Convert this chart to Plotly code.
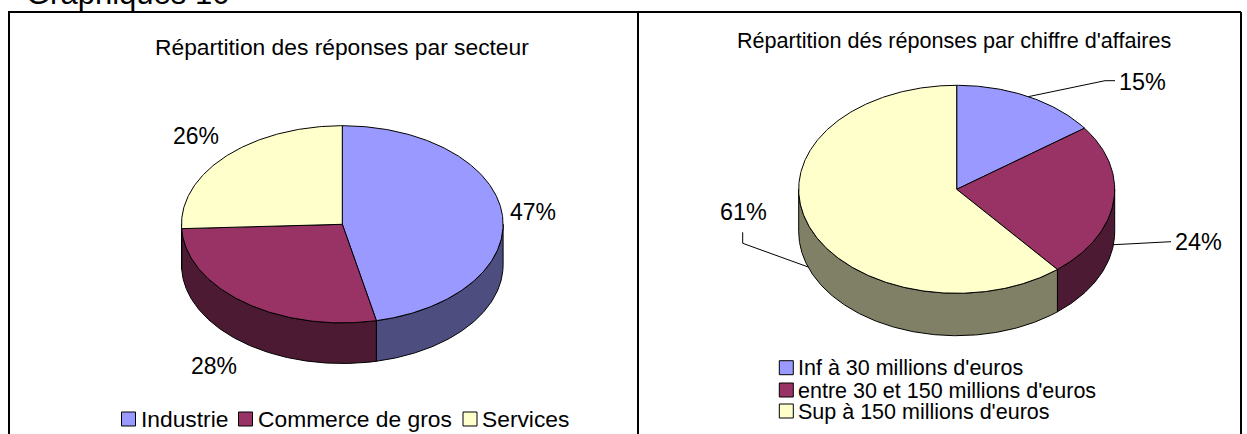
import math
import plotly.graph_objects as go

page_title = "Graphiques 16"
left_title = "Répartition des réponses par secteur"
right_title = "Répartition dés réponses par chiffre d'affaires"
left_categories = ["Industrie", "Commerce de gros", "Services"]
left_values = [46.6, 27.7, 25.7]
left_labels = ["47%", "28%", "26%"]
right_categories = ["Inf à 30 millions d'euros", "entre 30 et 150 millions d'euros", "Sup à 150 millions d'euros"]
right_values = [15.0, 24.0, 61.0]
right_labels = ["15%", "24%", "61%"]
top_colors = ["#9999ff", "#993366", "#ffffcc"]
wall_colors = ["#4d4d80", "#4d1a33", "#808066"]

FONT = "Liberation Sans, Arial, sans-serif"
HEIGHT = 434
fig = go.Figure()


def pt(g, th, drop=0.0):
    a = math.radians(th)
    return g["cx"] + g["rx"] * math.sin(a), g["cy"] - g["ry"] * math.cos(a) + drop


def arc(g, a, b, drop=0.0):
    n = max(2, int(abs(b - a) * 1.5))
    return [pt(g, a + (b - a) * i / n, drop) for i in range(n + 1)]


def poly(points, color, name):
    xs = [p[0] for p in points]
    ys = [p[1] for p in points]
    fig.add_trace(go.Scatter(x=xs + xs[:1], y=ys + ys[:1], mode="lines", fill="toself",
                             fillcolor=color, line=dict(color="#000000", width=1),
                             name=name, hoverinfo="name", showlegend=False))


def pie3d(g, values, names):
    total = sum(values)
    edges = [0.0]
    for v in values:
        edges.append(edges[-1] + v / total * 360)
    for i in range(len(values)):
        a = max(edges[i], 90)
        b = min(edges[i + 1], 270)
        if b > a:
            poly(arc(g, a, b) + arc(g, b, a, g["depth"]), wall_colors[i], names[i])
    for i in range(len(values)):
        poly([(g["cx"], g["cy"])] + arc(g, edges[i], edges[i + 1]), top_colors[i], names[i])
    return [(edges[i] + edges[i + 1]) / 2 for i in range(len(values))]


def text(x, y, s, size, anchor="left"):
    # paper-referenced vertical position so that texts near the page edge are still drawn
    fig.add_annotation(x=x, xref="x", y=1 - y / HEIGHT, yref="paper", text=s, showarrow=False,
                       xanchor=anchor, yanchor="middle", borderpad=0, borderwidth=0, align="left",
                       font=dict(family=FONT, size=size, color="#000000"))


def leader(points):
    fig.add_trace(go.Scatter(x=[p[0] for p in points], y=[p[1] for p in points], mode="lines",
                             line=dict(color="#000000", width=1), hoverinfo="skip", showlegend=False))


def swatches(xs, ys, colors):
    fig.add_trace(go.Scatter(x=xs, y=ys, mode="markers", hoverinfo="skip", showlegend=False,
                             marker=dict(symbol="square", size=14, color=colors,
                                         line=dict(color="#000000", width=1))))


L = dict(cx=342.3, cy=224.3, rx=160.8, ry=98.6, depth=40.6)
R = dict(cx=956.7, cy=189.3, rx=158.0, ry=104.0, depth=42.4)
pie3d(L, left_values, left_categories)
mids = pie3d(R, right_values, right_categories)

leader([pt(R, mids[0]), (1105, 80.7), (1115, 80.7)])
leader([pt(R, mids[1], R["depth"]), (1160, 241.7), (1171, 241.7)])
leader([pt(R, mids[2], R["depth"]), (742.7, 243.3), (742.7, 232.3)])

# table frame
for x0, y0, x1, y1 in [(8, 12, 1241, 12), (9, 12, 9, 434), (638, 12, 638, 434), (1241, 12, 1241, 434)]:
    fig.add_shape(type="line", x0=x0, y0=y0, x1=x1, y1=y1, line=dict(color="#000000", width=2))

text(26, -6, page_title, 31)
text(342, 47, left_title, 22.8, "center")
text(953.5, 41, right_title, 21.6, "center")

text(533, 212, left_labels[0], 23, "center")
text(214, 366, left_labels[1], 23, "center")
text(196, 136, left_labels[2], 23, "center")
text(1142.5, 82, right_labels[0], 23.4, "center")
text(1198, 242, right_labels[1], 23.4, "center")
text(743, 211.5, right_labels[2], 23.4, "center")

swatches([128.5, 245.5, 470], [419, 419, 419], top_colors)
for x, s in zip([141, 257.5, 482], left_categories):
    text(x, 419, s, 22.8)
swatches([786.3, 786.3, 786.3], [367.7, 390, 411], top_colors)
for y, s in zip([368, 390.7, 411.7], right_categories):
    text(798, y, s, 21.5)

fig.update_xaxes(range=[0, 1247], visible=False, fixedrange=True)
fig.update_yaxes(range=[434, 0], visible=False, fixedrange=True)
fig.update_layout(width=1247, height=HEIGHT, margin=dict(l=0, r=0, t=0, b=0),
                  plot_bgcolor="#ffffff", paper_bgcolor="#ffffff", showlegend=False)
fig.write_html("out.html", config={"displayModeBar": False},
               post_script="document.body.style.margin='0';document.body.style.overflow='hidden';")
